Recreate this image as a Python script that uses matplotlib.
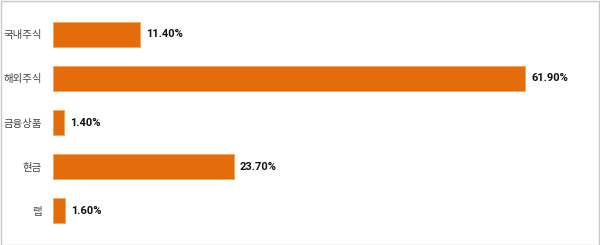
import matplotlib
matplotlib.use("Agg")
import matplotlib.pyplot as plt
from matplotlib.patches import Rectangle

categories = ["국내주식", "해외주식", "금융상품", "현금", "랩"]
values = [11.4, 61.9, 1.4, 23.7, 1.6]
value_labels = ["11.40%", "61.90%", "1.40%", "23.70%", "1.60%"]

plt.rcParams['font.family'] = ['Noto Sans CJK KR', 'DejaVu Sans']

fig = plt.figure(figsize=(6, 2.45), dpi=100)
ax = fig.add_axes([53/600, 0.051, (70*7.63)/600, 0.898])

ypos = list(range(len(categories)))
ax.barh(ypos, values, height=0.57, color='#E46C0A', edgecolor='#F3A765', linewidth=0.7)
ax.set_ylim(len(categories) - 0.5, -0.5)
ax.set_xlim(0, 70)

ax.set_yticks(ypos)
ax.set_yticklabels(categories, fontsize=7.5, color='#444444')
ax.tick_params(axis='y', length=0, pad=8)
ax.set_xticks([])
for s in ax.spines.values():
    s.set_visible(False)

for y, v, lab in zip(ypos, values, value_labels):
    ax.text(v + 0.8, y, lab, va='center', ha='left', fontsize=8,
            fontweight='bold', family=['Roboto', 'DejaVu Sans'], color='#111111')

fig.patches.append(Rectangle((0.5/600, 0.5/245), 598.5/600, 243.5/245,
                             transform=fig.transFigure, fill=False,
                             edgecolor='#C8C8C8', linewidth=1))

fig.savefig("out.png", dpi=100)
